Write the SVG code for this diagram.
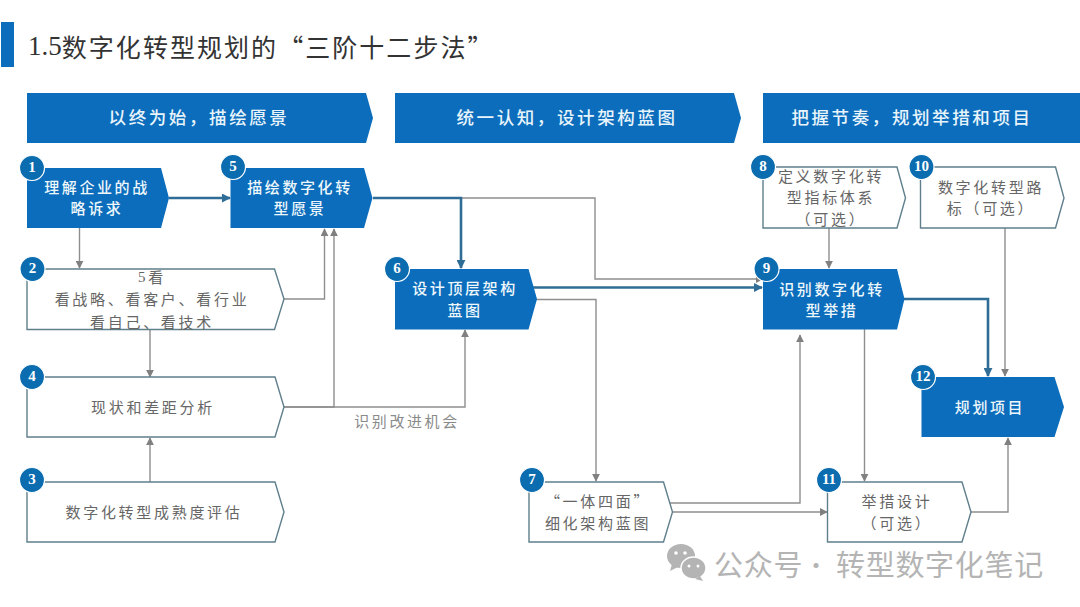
<svg xmlns="http://www.w3.org/2000/svg" width="1080" height="607" viewBox="0 0 1080 607">
<style>
text{font-family:"Noto Sans CJK SC",sans-serif;text-anchor:middle;dominant-baseline:central;transform:translateY(-1.5px)}
.banner{fill:#0b6dbb}
.fill{fill:#0b6dbb;stroke:none}
.hollow{fill:#fff;stroke:#5f7f8c;stroke-width:1.4}
.bt{fill:#e8f4fb;font-size:17.5px;letter-spacing:2.6px;font-weight:500}
.wt{fill:#eef7fc;font-size:15px;letter-spacing:2.6px;font-weight:500}
.gt{fill:#666;font-size:15px;letter-spacing:2.7px}
.lbl{fill:#8a8a8a;font-size:15px;letter-spacing:2.6px}
.dot{fill:#0b6cb0;stroke:#fff;stroke-width:1.2}
.num{fill:#fff;font-family:"Liberation Serif",serif;font-size:15px;font-weight:700}
.thin{fill:none;stroke:#8e8e8e;stroke-width:1.4;marker-end:url(#ag)}
.thick{fill:none;stroke:#2f6c96;stroke-width:2.6;marker-end:url(#ad)}
</style>
<defs>
<marker id="ag" viewBox="0 0 10 10" refX="9" refY="5" markerUnits="userSpaceOnUse" markerWidth="8" markerHeight="8" orient="auto"><path d="M0 0L10 5L0 10Z" fill="#808080"/></marker>
<marker id="ad" viewBox="0 0 10 10" refX="9" refY="5" markerUnits="userSpaceOnUse" markerWidth="9" markerHeight="9" orient="auto"><path d="M0 0L10 5L0 10Z" fill="#2f6c96"/></marker>
</defs>
<rect width="1080" height="607" fill="#fff"/>
<g id="title">
<rect x="1" y="22" width="13" height="45" fill="#0b6dbb"/>
<text x="28" y="47" style="text-anchor:start;font-size:25px;letter-spacing:2.05px;fill:#333"><tspan style="font-family:'Liberation Serif',serif;font-size:27px;letter-spacing:0">1.5</tspan>数字化转型规划的“三阶十二步法”</text>
</g>
<g id="banners">
<g id="banner1"><path class="banner" d="M27 93H366L373 118L366 143H27Z"/><text class="bt" x="199" y="118">以终为始，描绘愿景</text></g>
<g id="banner2"><path class="banner" d="M395 93H734L741 118L734 143H395Z"/><text class="bt" x="567" y="118">统一认知，设计架构蓝图</text></g>
<g id="banner3"><path class="banner" d="M763 93H1103L1110 118L1103 143H763Z"/><text class="bt" x="912" y="118">把握节奏，规划举措和项目</text></g>
</g>
<g id="connectors">
<path class="thick" d="M169 198H230"/>
<path class="thin" d="M461 198H595V279H763"/>
<path class="thick" d="M373 198H461V268"/>
<path class="thick" d="M533 287.5H762"/>
<path class="thin" d="M533 299.5H596V481"/>
<path class="thin" d="M79.500 228V268"/>
<path class="thin" d="M284 299H324.500V229"/>
<path class="thin" d="M284 407H334V229"/>
<path class="thin" d="M284 407H465V330"/>
<path class="thin" d="M150 329V377"/>
<path class="thin" d="M150 482V438"/>
<path class="thin" d="M829 228V268"/>
<path class="thick" d="M904 299H988V376"/>
<path class="thin" d="M1005 228V376"/>
<path class="thin" d="M864.500 329V481"/>
<path class="thin" d="M668 503H800V335"/>
<path class="thin" d="M672 512H827"/>
<path class="thin" d="M971 512H1008V438"/>
</g>
<g id="node1"><path class="fill" d="M27 168H161L169 198L161 228H27Z"/><text class="wt" x="97" y="188">理解企业的战</text><text class="wt" x="97" y="209">略诉求</text><circle class="dot" cx="32" cy="168" r="12.500"/><text class="num" x="32" y="168">1</text></g>
<g id="node5"><path class="fill" d="M230.500 168H364L372.500 198L364 228H230.500Z"/><text class="wt" x="300" y="188">描绘数字化转</text><text class="wt" x="300" y="209">型愿景</text><circle class="dot" cx="233" cy="167" r="12.500"/><text class="num" x="233" y="167">5</text></g>
<g id="node2"><path class="hollow" d="M27 269H274.500L284 299L274.500 329.500H27Z"/><text class="gt" x="152" y="278"><tspan style="font-family:'Liberation Serif',serif">5</tspan>看</text><text class="gt" x="152" y="300">看战略、看客户、看行业</text><text class="gt" x="152" y="323">看自己、看技术</text><circle class="dot" cx="32.500" cy="269" r="12.500"/><text class="num" x="32.500" y="269">2</text></g>
<g id="node4"><path class="hollow" d="M27 377H275L284 407L275 437H27Z"/><text class="gt" x="153" y="408">现状和差距分析</text><circle class="dot" cx="32" cy="377" r="12.500"/><text class="num" x="32" y="377">4</text></g>
<g id="node3"><path class="hollow" d="M27 482H275L284 512L275 542H27Z"/><text class="gt" x="154" y="513">数字化转型成熟度评估</text><circle class="dot" cx="32" cy="480" r="12.500"/><text class="num" x="32" y="480">3</text></g>
<g id="node6"><path class="fill" d="M395 269H528.500L537 299L528.500 329.500H395Z"/><text class="wt" x="465" y="289">设计顶层架构</text><text class="wt" x="465" y="311">蓝图</text><circle class="dot" cx="397" cy="269" r="12.500"/><text class="num" x="397" y="269">6</text></g>
<g id="node7"><path class="hollow" d="M529 482H663.500L672.500 512L663.500 542H529Z"/><text class="gt" x="598" y="502">“一体四面”</text><text class="gt" x="598" y="524">细化架构蓝图</text><circle class="dot" cx="532" cy="480" r="12.500"/><text class="num" x="532" y="480">7</text></g>
<g id="node8"><path class="hollow" d="M763 167H897L905.500 198L897 228H763Z"/><text class="gt" x="831" y="177">定义数字化转</text><text class="gt" x="831" y="198">型指标体系</text><text class="gt" x="831" y="220">（可选）</text><circle class="dot" cx="763" cy="167" r="12.500"/><text class="num" x="763" y="167">8</text></g>
<g id="node10"><path class="hollow" d="M920.500 167H1055.500L1064 198L1055.500 228H920.500Z"/><text class="gt" x="991" y="188">数字化转型路</text><text class="gt" x="991" y="209">标（可选）</text><circle class="dot" cx="921.500" cy="167" r="12.500"/><text class="num" x="921.500" y="167">10</text></g>
<g id="node9"><path class="fill" d="M763 269H897L904.500 299L897 329.500H763Z"/><text class="wt" x="832" y="290">识别数字化转</text><text class="wt" x="832" y="311">型举措</text><circle class="dot" cx="766.500" cy="269" r="12.500"/><text class="num" x="766.500" y="269">9</text></g>
<g id="node11"><path class="hollow" d="M827.500 482H962L971 512L962 542H827.500Z"/><text class="gt" x="897" y="502">举措设计</text><text class="gt" x="897" y="524">（可选）</text><circle class="dot" cx="829" cy="480" r="12.500"/><text class="num" x="829" y="480">11</text></g>
<g id="node12"><path class="fill" d="M921.500 377H1054.500L1064 407L1054.500 437H921.500Z"/><text class="wt" x="990" y="408">规划项目</text><circle class="dot" cx="923" cy="377" r="12.500"/><text class="num" x="923" y="377">12</text></g>
<text class="lbl" x="407" y="422">识别改进机会</text>
<g id="watermark">
<ellipse cx="681" cy="556" rx="14" ry="12" fill="#b4b4b4"/>
<path d="M672 564l-2 7l8-4z" fill="#b4b4b4"/>
<ellipse cx="693.500" cy="568" rx="12.500" ry="11" fill="#b4b4b4" stroke="#fff" stroke-width="1.500"/>
<path d="M700 576l3 5l-8-2z" fill="#b4b4b4"/>
<circle cx="676" cy="553" r="1.800" fill="#fff"/><circle cx="685" cy="553" r="1.800" fill="#fff"/>
<circle cx="689" cy="566" r="1.500" fill="#fff"/><circle cx="698" cy="566" r="1.500" fill="#fff"/>
<text x="714" y="564" style="text-anchor:start;font-size:29px;letter-spacing:0.700px;fill:#b4b4b4">公众号<tspan x="804" style="font-size:24px">·</tspan><tspan x="836">转型数字化笔记</tspan></text>
</g>
</svg>
